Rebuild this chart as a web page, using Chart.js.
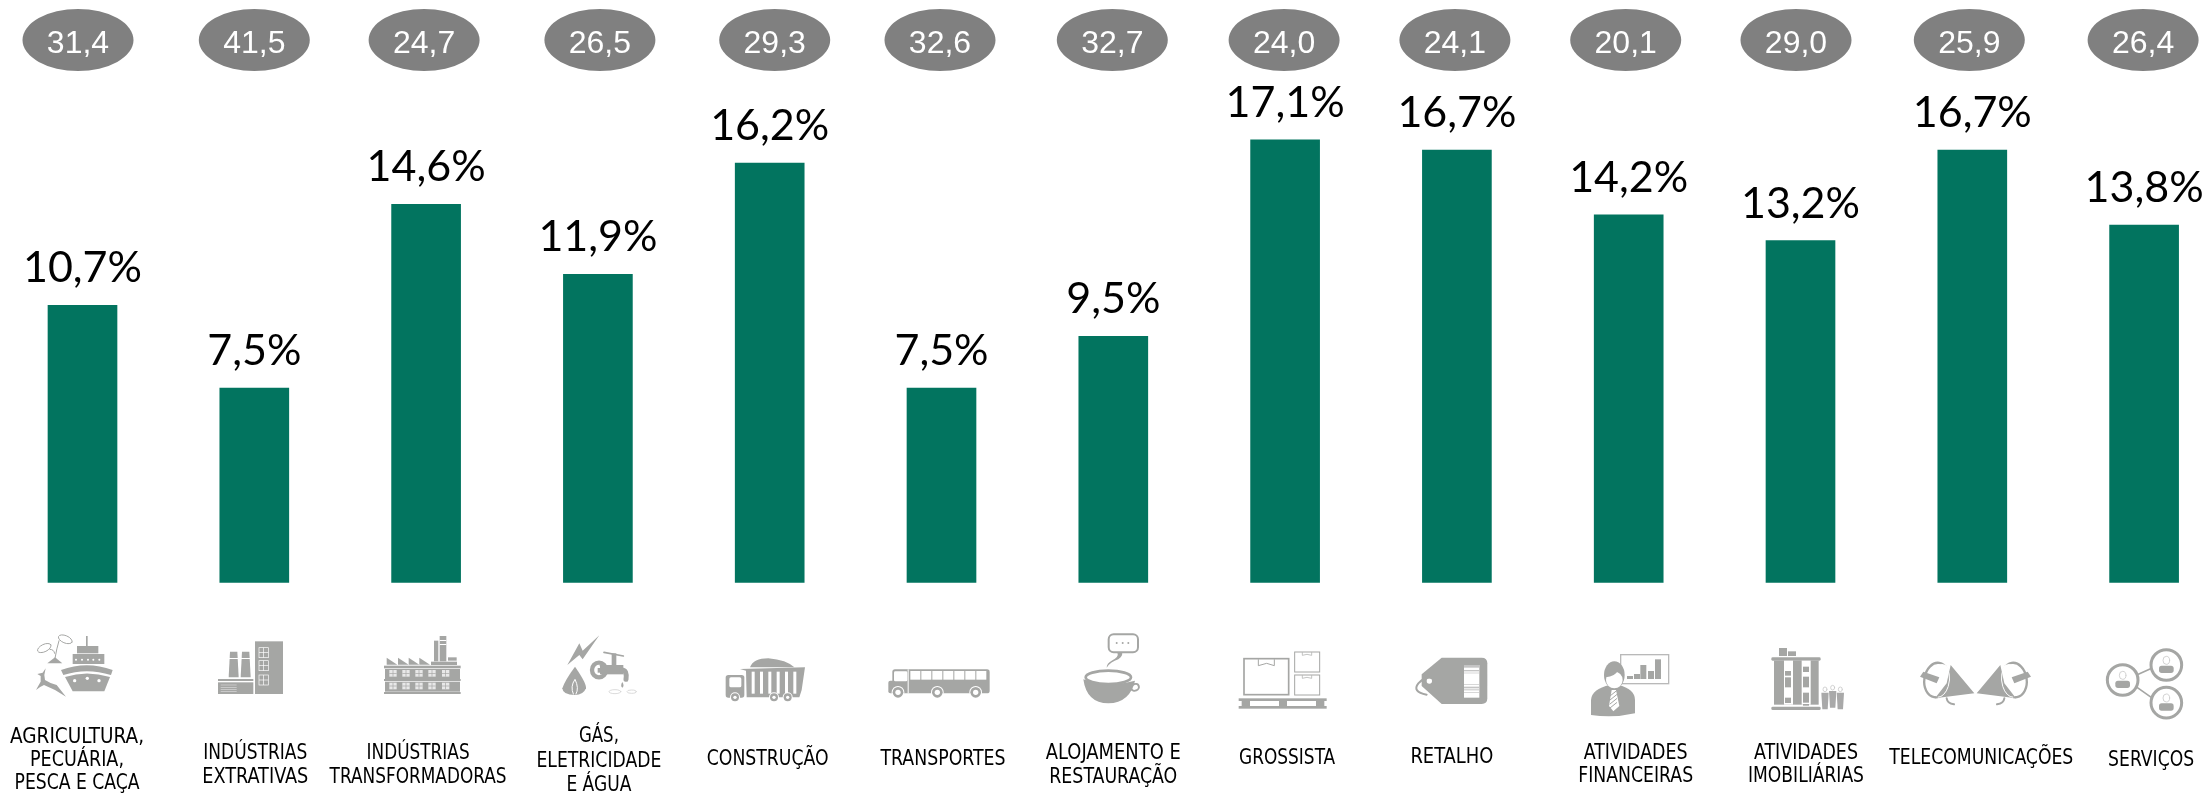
<!DOCTYPE html>
<html lang="pt">
<head>
<meta charset="utf-8">
<title>Setores</title>
<script src="https://cdn.jsdelivr.net/npm/chart.js@4"></script>
<style>
    html, body { margin: 0; padding: 0; background: #fff; }
    canvas { display: block; }
</style>
</head>
<body>
<canvas id="grafico" width="2205" height="793"></canvas>
<script>
// dados
const categorias = [
    ['AGRICULTURA,', 'PECUÁRIA,', 'PESCA E CAÇA'],
    ['INDÚSTRIAS', 'EXTRATIVAS'],
    ['INDÚSTRIAS', 'TRANSFORMADORAS'],
    ['GÁS,', 'ELETRICIDADE', 'E ÁGUA'],
    ['CONSTRUÇÃO'],
    ['TRANSPORTES'],
    ['ALOJAMENTO E', 'RESTAURAÇÃO'],
    ['GROSSISTA'],
    ['RETALHO'],
    ['ATIVIDADES', 'FINANCEIRAS'],
    ['ATIVIDADES', 'IMOBILIÁRIAS'],
    ['TELECOMUNICAÇÕES'],
    ['SERVIÇOS']
];
const percentagens = [10.7, 7.5, 14.6, 11.9, 16.2, 7.5, 9.5, 17.1, 16.7, 14.2, 13.2, 16.7, 13.8];
const valoresElipse = [31.4, 41.5, 24.7, 26.5, 29.3, 32.6, 32.7, 24.0, 24.1, 20.1, 29.0, 25.9, 26.4];

// pequenos desvios em relação ao centro da barra
const desvioElipse = [-4.5, 0, -2, 2, 5, -1.5, -1, -1, -2, -3, -4.5, -3, -1];
const desvioRotulo = [-5.5, 1, -8, 1, -2, 1.5, 0, 2, -5, 7, 5.5, 9, 7];
const linhasRotulo = [[738, 761, 784], [754, 778], [754, 778], [737, 762, 786], [760], [760], [754, 778], [759], [758], [754, 777], [754, 777], [759], [761]];
const largurasRotulo = [[134, 94, 125], [104, 106], [103, 177], [40, 125, 65], [122], [125], [135, 128], [96], [83], [104, 115], [104, 116], [184], [86]];

const VERDE = '#02745f';
const CINZA_ICONE = '#a5a6a4';

const virgula = (v, casas) => v.toFixed(casas).replace('.', ',');

// ---- ícones, desenhados nas coordenadas do recorte (3x) ----
function ferramentas(ctx) {
    return {
        R(x, y, w, h, c) { ctx.fillStyle = c || CINZA_ICONE; ctx.fillRect(x, y, w, h); },
        B(x, y, w, h, r, c) { ctx.fillStyle = c || CINZA_ICONE; ctx.beginPath(); ctx.roundRect(x, y, w, h, r); ctx.fill(); },
        P(pts, c) {
            ctx.fillStyle = c || CINZA_ICONE;
            ctx.beginPath();
            pts.forEach((p, i) => i ? ctx.lineTo(p[0], p[1]) : ctx.moveTo(p[0], p[1]));
            ctx.closePath();
            ctx.fill();
        },
        C(x, y, r, c) { ctx.fillStyle = c || CINZA_ICONE; ctx.beginPath(); ctx.arc(x, y, r, 0, Math.PI * 2); ctx.fill(); },
        E(x, y, rx, ry, rot, c) { ctx.fillStyle = c || CINZA_ICONE; ctx.beginPath(); ctx.ellipse(x, y, rx, ry, rot, 0, Math.PI * 2); ctx.fill(); },
        EL(x, y, rx, ry, rot, lw, c) { ctx.strokeStyle = c || CINZA_ICONE; ctx.lineWidth = lw; ctx.beginPath(); ctx.ellipse(x, y, rx, ry, rot, 0, Math.PI * 2); ctx.stroke(); },
        S(d, lw, c) { ctx.strokeStyle = c || CINZA_ICONE; ctx.lineWidth = lw; ctx.lineCap = 'round'; ctx.stroke(new Path2D(d)); },
        F(d, c) { ctx.fillStyle = c || CINZA_ICONE; ctx.fill(new Path2D(d)); },
        Q(x, y, w, h, lw, c) { ctx.strokeStyle = c || CINZA_ICONE; ctx.lineWidth = lw; ctx.strokeRect(x, y, w, h); }
    };
}

function desenharIcones(ctx) {
    const t = ferramentas(ctx);
    const { R, B, P, C, E, EL, S, F, Q } = t;
    const W = '#fff';

    // recorte 1: navio, fábrica, indústria
    ctx.save();
    ctx.translate(0, 620);
    ctx.scale(1 / 3, 1 / 3);
    R(258, 48, 5, 30); R(231, 78, 64, 22); R(218, 102, 95, 30);
    [228, 246, 264, 280, 298].forEach(x => C(x, 119, 3, W));
    F('M183 150 Q260 122 338 150 L333 165 Q260 142 190 165 Z');
    F('M195 171 Q260 150 330 171 L313 214 L218 214 Z');
    C(224, 182, 5, W); C(262, 175, 5, W); C(297, 182, 5, W);
    P([[142, 130], [187, 130], [165, 112]]);
    S('M165 115 Q170 85 177 62', 3);
    S('M164 100 Q162 88 150 88', 3);
    EL(133, 84, 22, 11, -0.45, 3);
    EL(196, 58, 22, 11, 0.4, 3);
    F('M137 145 L128 158 L112 162 L122 168 L122 185 Q116 195 108 210 Q120 200 132 195 L165 210 L198 230 L180 208 L170 195 Q150 190 135 180 L133 165 Z');

    R(765, 64, 84, 158);
    [83, 122, 165].forEach(y => {
        Q(777, y, 28, 30, 2, W);
        R(777, y + 14, 28, 2, W);
        R(790, y, 2, 30, W);
    });
    P([[690, 95], [712, 95], [716, 172], [686, 172]]);
    P([[726, 95], [748, 95], [752, 172], [722, 172]]);
    R(686, 114, 70, 3, W);
    R(654, 177, 106, 6); R(654, 187, 106, 35);
    [194, 201, 208, 214].forEach(y => R(662, y, 48, 2, '#dcdcdc'));

    R(1152, 137, 230, 8); R(1155, 147, 225, 30); R(1152, 177, 230, 6);
    R(1155, 185, 225, 30); R(1152, 216, 230, 6);
    [1168, 1207, 1246, 1285, 1326].forEach(x => {
        [150, 188].forEach(y => {
            R(x, y, 22, 20, '#e8e8e8');
            R(x + 10, y, 2, 20); R(x, y + 9, 22, 2);
        });
    });
    [1160, 1194, 1226, 1258].forEach(x => P([[x, 113], [x + 32, 134], [x, 134]]));
    R(1293, 125, 78, 10); R(1302, 62, 13, 62); R(1319, 48, 20, 76); R(1344, 112, 26, 10);
    R(1319, 60, 20, 3, W); R(1319, 72, 20, 3, W);
    ctx.restore();

    // recorte 2: gás e água, camião, autocarro
    ctx.save();
    ctx.translate(520, 620);
    ctx.scale(1 / 3, 1 / 3);
    P([[238, 46], [188, 92], [178, 70], [142, 135], [178, 105], [188, 118]]);
    F('M165 140 Q200 190 198 205 Q190 225 165 225 Q128 225 127 205 Q135 180 165 140 Z');
    S('M160 222 Q150 200 165 178 Q178 205 168 222', 3, W);
    EL(237, 150, 21, 22, 0, 13);
    R(240, 135, 70, 28);
    S('M305 150 Q322 150 318 178', 15);
    S('M240 137 L305 137', 3);
    R(233, 144, 25, 14, CINZA_ICONE);
    S('M252 97 L310 108', 5);
    R(275, 100, 14, 35);
    F('M307 186 Q314 198 307 203 Q300 198 307 186 Z');
    EL(285, 215, 18, 6, 0, 2, '#c9c9c9');
    EL(335, 215, 14, 5, 0, 2, '#c9c9c9');

    F('M690 142 Q700 115 745 115 Q800 120 823 142 Z');
    P([[660, 147], [855, 142], [845, 210], [838, 232], [680, 232], [678, 152]]);
    [695, 720, 745, 770, 795, 820].forEach(x => R(x, 155, 9, 66, W));
    B(617, 165, 56, 68, 8);
    B(628, 172, 36, 30, 5, W);
    [[645, 232], [762, 232], [803, 232]].forEach(p => {
        C(p[0], p[1], 15, W); C(p[0], p[1], 12); C(p[0], p[1], 5, W);
    });

    B(1117, 148, 292, 72, 8);
    B(1105, 182, 30, 38, 6);
    B(1122, 154, 40, 30, 4, W);
    R(1163, 148, 3, 72, W);
    for (let i = 0; i < 7; i++) R(1171 + i * 33, 153, 30, 26, W);
    [1134, 1252, 1367].forEach(x => {
        C(x, 217, 19, W); C(x, 217, 16); C(x, 217, 8, W);
    });
    ctx.restore();

    // recorte 3: chávena, paletes, etiqueta
    ctx.save();
    ctx.translate(1040, 620);
    ctx.scale(1 / 3, 1 / 3);
    F('M130 178 Q205 205 285 182 Q270 248 205 250 Q140 250 130 178 Z');
    EL(205, 172, 68, 20, 0, 8);
    E(205, 172, 50, 13, 0, W);
    EL(285, 202, 12, 10, -0.4, 6);
    ctx.strokeStyle = CINZA_ICONE;
    ctx.lineWidth = 6;
    ctx.beginPath(); ctx.roundRect(206, 43, 88, 54, 15); ctx.stroke();
    [230, 248, 265].forEach(x => C(x, 69, 3));
    F('M232 97 Q238 112 215 122 Q200 130 200 143 Q212 125 235 118 Q250 108 246 97 Z');

    Q(612, 116, 134, 108, 5);
    S('M655 119 L655 137 L680 130 L703 137 L703 119', 3);
    Q(764, 96, 75, 60, 3);
    Q(764, 165, 75, 60, 3);
    S('M787 98 L787 106 L801 103 L815 106 L815 98', 2);
    S('M787 167 L787 175 L801 172 L815 175 L815 167', 2);
    R(596, 235, 264, 8); R(596, 258, 264, 8);
    R(605, 243, 25, 15); R(717, 243, 24, 15); R(828, 243, 25, 15);

    F('M1205 113 L1325 113 Q1342 113 1342 130 L1342 235 Q1342 252 1325 252 L1205 252 L1145 198 L1145 163 Z');
    R(1272, 135, 46, 98, W);
    [[135, 8], [150, 4], [158, 2], [192, 2], [200, 5], [208, 3], [216, 2]].forEach(l => R(1272, l[0], 46, l[1], '#c4c4c4'));
    C(1168, 183, 8, W);
    S('M1178 175 Q1160 165 1135 190 Q1115 215 1160 224', 6);
    ctx.restore();

    // recorte 4: pessoa, prédio, megafones
    ctx.save();
    ctx.translate(1560, 620);
    ctx.scale(1 / 3, 1 / 3);
    Q(182, 104, 144, 87, 4, '#b9b9b9');
    R(201, 168, 18, 9); R(222, 162, 18, 15); R(241, 135, 18, 42); R(264, 153, 18, 24); R(285, 118, 18, 59);
    E(163, 165, 31, 41, 0);
    F('M93 285 L93 240 Q95 207 150 195 L175 195 Q225 207 225 240 L225 280 Q160 295 93 285 Z');
    E(163, 180, 25, 25, 0, W);
    F('M137 172 Q165 170 175 150 Q185 165 190 172 L190 150 L137 150 Z');
    P([[155, 210], [168, 210], [178, 258], [160, 274], [147, 258]], W);
    [228, 240, 252, 264].forEach(y => S('M150 ' + y + ' L170 ' + (y - 16), 3));

    B(634, 112, 148, 10, 4);
    R(657, 84, 24, 24); R(684, 94, 24, 14);
    R(642, 122, 134, 132);
    R(672, 122, 27, 132, W); R(725, 122, 27, 132, W);
    R(675, 153, 18, 14); R(675, 172, 18, 30); R(675, 233, 18, 16);
    R(729, 140, 18, 16); R(729, 170, 18, 32); R(729, 218, 18, 30); R(729, 252, 18, 5);
    B(634, 260, 148, 10, 4);
    [[795, 208], [818, 203], [841, 208]].forEach(p => {
        EL(p[0], p[1], 6, 7, 0, 2, '#bdbdbd');
        P([[p[0] - 11, p[1] + 10], [p[0] + 11, p[1] + 10], [p[0] + 8, p[1] + 60], [p[0] - 8, p[1] + 60]], '#a9a9a9');
    });

    const megafone = () => {
        EL(1130, 180, 37, 52, 0.15, 7);
        E(1142, 182, 30, 50, 0.15, W);
        P([[1172, 135], [1243, 220], [1125, 235], [1160, 190]]);
        ctx.save();
        ctx.strokeStyle = W;
        ctx.lineWidth = 3;
        ctx.beginPath();
        ctx.ellipse(1140, 182, 28, 50, 0.15, -1.3, 1.5);
        ctx.stroke();
        ctx.restore();
        P([[1080, 170], [1090, 155], [1138, 172], [1130, 190]]);
        S('M1160 235 Q1162 250 1182 253', 6);
    };
    megafone();
    ctx.save();
    ctx.translate(2493, 0);
    ctx.scale(-1, 1);
    megafone();
    ctx.restore();
    ctx.restore();

    // recorte 5: serviços
    ctx.save();
    ctx.translate(2060, 620);
    ctx.scale(1 / 3, 1 / 3);
    S('M230 165 L275 145', 5);
    S('M228 200 L278 235', 5);
    [[188, 180], [319, 135], [319, 248]].forEach(p => {
        C(p[0], p[1], 46, W);
        EL(p[0], p[1], 46, 46, 0, 9);
        EL(p[0], p[1] - 14, 10, 12, 0, 2, '#bdbdbd');
        B(p[0] - 22, p[1] + 2, 44, 22, 8);
    });
    ctx.restore();
}

// ---- elipses, rótulos e ícones ----
const extras = {
    id: 'extras',
    afterDatasetsDraw(chart) {
        const { ctx, scales: { x, y } } = chart;
        ctx.save();

        // percentagem por cima de cada barra
        ctx.fillStyle = '#000';
        ctx.textAlign = 'center';
        ctx.textBaseline = 'alphabetic';
        ctx.font = '43px Lato';
        percentagens.forEach((v, i) => {
            ctx.fillText(virgula(v, 1) + '%', x.getPixelForValue(i), y.getPixelForValue(v) - 23);
        });

        // elipses cinzentas
        valoresElipse.forEach((v, i) => {
            const cx = x.getPixelForValue(i) + desvioElipse[i];
            ctx.fillStyle = '#808080';
            ctx.beginPath();
            ctx.ellipse(cx, 40, 55.5, 31, 0, 0, Math.PI * 2);
            ctx.fill();
            ctx.fillStyle = '#fff';
            ctx.font = '32px "Liberation Sans"';
            ctx.fillText(virgula(v, 1), cx, 53);
        });

        // nomes dos setores
        ctx.fillStyle = '#000';
        ctx.textBaseline = 'middle';
        ctx.font = 'condensed 21px "DejaVu Sans"';
        categorias.forEach((linhas, i) => {
            const cx = x.getPixelForValue(i) + desvioRotulo[i];
            linhas.forEach((txt, k) => ctx.fillText(txt, cx, linhasRotulo[i][k], largurasRotulo[i][k]));
        });

        desenharIcones(ctx);
        ctx.restore();
    }
};

new Chart(document.getElementById('grafico').getContext('2d'), {
    type: 'bar',
    data: {
        labels: categorias.map(l => l.join(' ')),
        datasets: [{
            data: percentagens,
            backgroundColor: VERDE,
            barThickness: 69,
            clip: false
        }]
    },
    options: {
        responsive: false,
        animation: false,
        layout: { padding: { left: 82.5, right: 60.9, top: 0, bottom: 210.7 } },
        plugins: { legend: { display: false }, tooltip: { enabled: false } },
        scales: {
            x: { display: false, offset: false },
            y: { display: false, min: 0, max: 22.5 }
        }
    },
    plugins: [extras]
});
</script>
</body>
</html>
